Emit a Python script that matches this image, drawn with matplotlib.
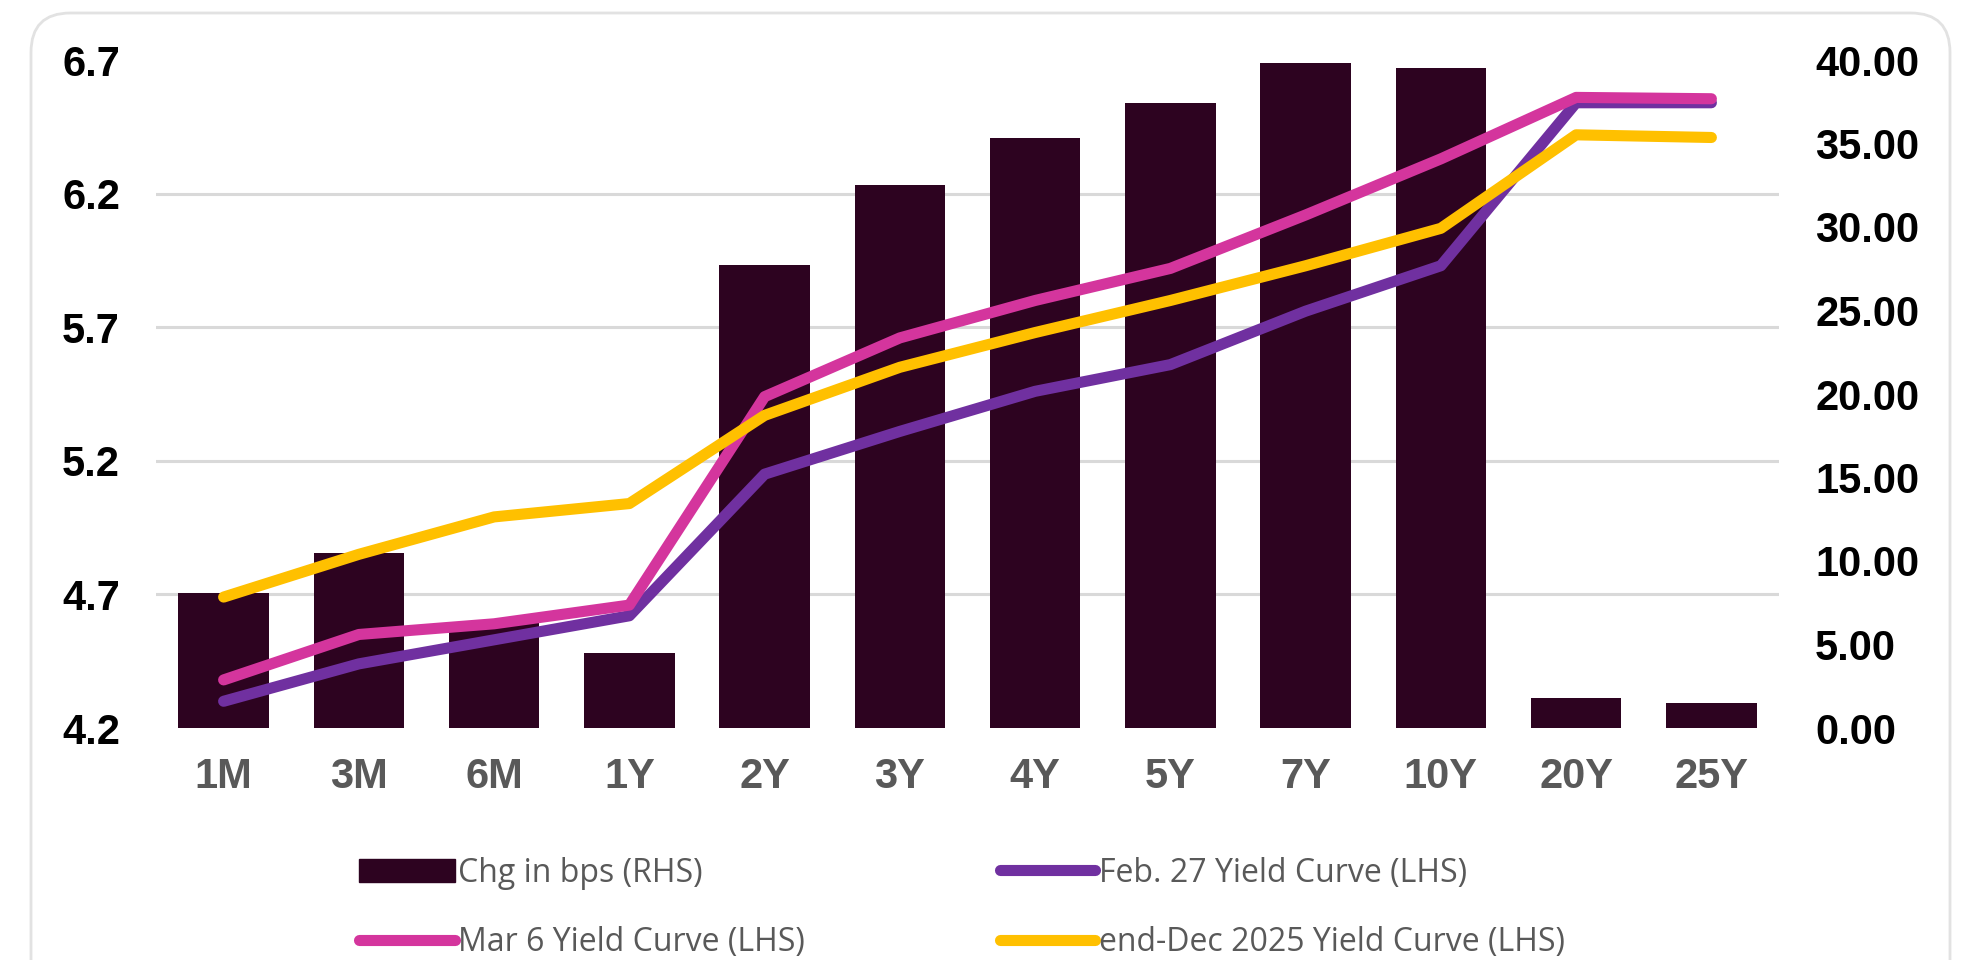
import numpy as np
import matplotlib
matplotlib.use("Agg")
import matplotlib.pyplot as plt
from matplotlib.patches import FancyBboxPatch, Patch
from matplotlib.lines import Line2D

tenors = ["1M", "3M", "6M", "1Y", "2Y", "3Y", "4Y", "5Y", "7Y", "10Y", "20Y", "25Y"]

# change in bps (right axis)
chg_bps = [8.1, 10.5, 6.3, 4.5, 27.7, 32.5, 35.3, 37.4, 39.8, 39.5, 1.8, 1.5]

# yield curves (left axis)
feb27 = [4.30, 4.44, 4.53, 4.62, 5.15, 5.31, 5.46, 5.56, 5.76, 5.93, 6.54, 6.54]
mar6 = [4.38, 4.55, 4.59, 4.66, 5.44, 5.66, 5.80, 5.92, 6.12, 6.33, 6.56, 6.555]
end_dec = [4.69, 4.85, 4.99, 5.04, 5.37, 5.55, 5.68, 5.80, 5.93, 6.07, 6.42, 6.41]

left_ticks = [4.2, 4.7, 5.2, 5.7, 6.2, 6.7]
right_ticks = [0, 5, 10, 15, 20, 25, 30, 35, 40]

BAR = "#2d0320"
PURPLE = "#7030a0"
MAGENTA = "#d4359d"
GOLD = "#ffc000"
GREY_TXT = "#595959"

tick_font = dict(family="Liberation Sans", weight="bold", size=30)

fig = plt.figure(figsize=(19.7, 9.6), dpi=100)
fig.patch.set_facecolor("white")

# light rounded frame around the chart
frame = FancyBboxPatch((31 / 1970, -0.2), (1950 - 31) / 1970, 1.2 - 13 / 960,
                       boxstyle="round,pad=0,rounding_size=0.02",
                       mutation_aspect=1970 / 960,
                       transform=fig.transFigure, facecolor="none",
                       edgecolor="#e2e2e2", lw=2)
fig.patches.append(frame)

x = np.arange(len(tenors))

ax_bar = fig.add_axes([156 / 1970, 1 - 728 / 960, (1779 - 156) / 1970, (728 - 60) / 960])
ax_bar.bar(x, chg_bps, width=0.67, color=BAR, zorder=2)
ax_bar.set_xlim(-0.5, len(tenors) - 0.5)
ax_bar.set_ylim(0, 40)

ax_line = ax_bar.twinx()
ax_line.plot(x, feb27, color=PURPLE, lw=8, solid_capstyle="round", solid_joinstyle="round")
ax_line.plot(x, mar6, color=MAGENTA, lw=8, solid_capstyle="round", solid_joinstyle="round")
ax_line.plot(x, end_dec, color=GOLD, lw=8, solid_capstyle="round", solid_joinstyle="round")
ax_line.set_ylim(left_ticks[0], left_ticks[-1])

# right axis (bars)
ax_bar.yaxis.set_ticks_position("right")
ax_bar.set_yticks(right_ticks)
ax_bar.set_yticklabels([f"{v:.2f}" for v in right_ticks], **tick_font)
# grid follows the left-axis ticks, drawn behind the bars
grid_pos = [(v - left_ticks[0]) / (left_ticks[-1] - left_ticks[0]) * 40 for v in left_ticks]
ax_bar.set_yticks(grid_pos, minor=True)
ax_bar.grid(axis="y", which="minor", color="#d9d9d9", lw=2.2, zorder=0)
ax_bar.grid(axis="y", which="major", visible=False)
ax_bar.tick_params(axis="y", which="both", length=0, pad=26, colors="black")
ax_bar.set_axisbelow(True)

ax_bar.set_xticks(x)
ax_bar.set_xticklabels(tenors, **tick_font)
ax_bar.tick_params(axis="x", length=0, pad=21, colors=GREY_TXT)

# left axis (lines)
ax_line.yaxis.set_ticks_position("left")
ax_line.set_yticks(left_ticks)
ax_line.set_yticklabels([f"{v:.1f}" for v in left_ticks], **tick_font)
ax_line.tick_params(axis="y", length=0, pad=26, colors="black")

for a in (ax_bar, ax_line):
    for s in a.spines.values():
        s.set_visible(False)
ax_line.patch.set_visible(False)

# legend is filled column by column
handles = [
    Patch(facecolor=BAR, edgecolor=BAR),
    Line2D([], [], color=MAGENTA, lw=8, solid_capstyle="round"),
    Line2D([], [], color=PURPLE, lw=8, solid_capstyle="round"),
    Line2D([], [], color=GOLD, lw=8, solid_capstyle="round"),
]
labels = ["Chg in bps (RHS)", "Mar 6 Yield Curve (LHS)",
          "Feb. 27 Yield Curve (LHS)", "end-Dec 2025 Yield Curve (LHS)"]
leg = fig.legend(handles, labels, ncol=2, loc="upper left",
                 bbox_to_anchor=(330 / 1970, 1 - 828 / 960),
                 frameon=False, handlelength=3.0, handleheight=0.75,
                 handletextpad=0.1, columnspacing=6.1, labelspacing=1.15,
                 prop=dict(family="Open Sans", size=23))
for t in leg.get_texts():
    t.set_color(GREY_TXT)

fig.savefig("out.png", dpi=100, facecolor="white")
